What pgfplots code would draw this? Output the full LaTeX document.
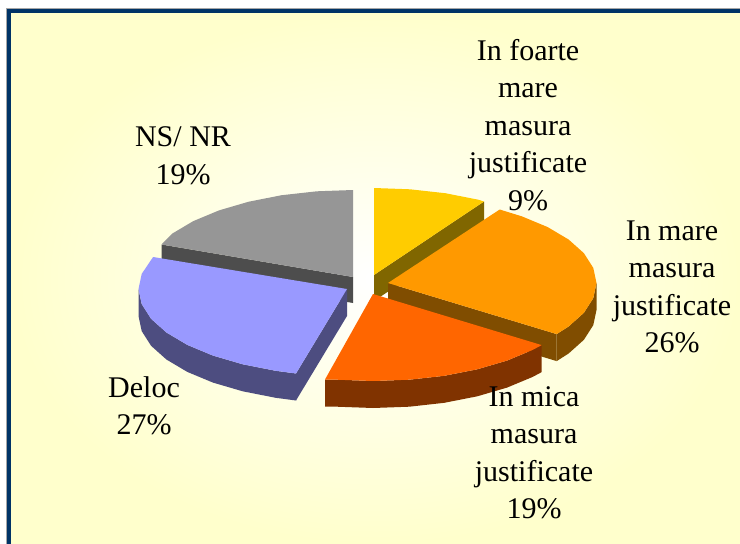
\documentclass[border=0pt]{standalone}
\usepackage{fontspec}
\setmainfont{Liberation Serif}
\usepackage{pgfplots}
\pgfplotsset{compat=1.18}
\definecolor{bord}{RGB}{0,51,102}
\definecolor{bgy}{RGB}{255,255,204}
\definecolor{c1}{RGB}{255,204,0}\definecolor{c1d}{RGB}{128,102,0}
\definecolor{c2}{RGB}{255,153,0}\definecolor{c2d}{RGB}{128,77,0}
\definecolor{c3}{RGB}{255,102,0}\definecolor{c3d}{RGB}{128,51,0}
\definecolor{c4}{RGB}{153,153,255}\definecolor{c4d}{RGB}{77,77,128}
\definecolor{c5}{RGB}{150,150,150}\definecolor{c5d}{RGB}{77,77,77}
\newcommand{\lab}[3]{\node[align=center,inner sep=0pt,text=black,font=\fontsize{30}{37.5}\selectfont] at (axis cs:#1,#2) {#3};}
\begin{document}
\begin{tikzpicture}
\begin{axis}[
  scale only axis, width=740pt, height=544pt,
  xmin=0, xmax=740, ymin=0, ymax=544, y dir=reverse,
  hide axis,
]
% panel
\addplot[fill=white, draw=none] coordinates {(0,0)(740,0)(740,544)(0,544)} --cycle;
\addplot[fill=black!35, draw=none] coordinates {(6,8)(740,8)(740,544)(6,544)} --cycle;
\addplot[fill=bord, draw=none] coordinates {(7,9)(740,9)(740,544)(7,544)} --cycle;
\path[inner color=white, outer color=bgy] (axis cs:11,13) rectangle (axis cs:740,544);
% NS/NR 19%
\addplot[fill=c5d, draw=none] coordinates {(353,277)(161.5,244.5)(161.5,270.5)(353,303)} --cycle;
\addplot[fill=c5, draw=none] coordinates {(353,277)(161.5,244.5)(172.4,233.5)(193.3,221.1)(219,210.4)(248.7,201.7)(281.7,195.2)(316.8,191.3)(353,190)} --cycle;
% Deloc 27%
\addplot[fill=c4d, draw=none] coordinates {(347,289)(296,373.5)(296,400.5)(347,316)} --cycle;
\addplot[fill=c4d, draw=none] coordinates {(296,373.5)(275.7,370.8)(242.7,364.3)(213,355.6)(187.3,344.9)(166.4,332.5)(151.1,318.8)(141.7,304.1)(138.5,289)(138.5,316)(141.7,331.1)(151.1,345.8)(166.4,359.5)(187.3,371.9)(213,382.6)(242.7,391.3)(275.7,397.8)(296,400.5)} --cycle;
\addplot[fill=c4, draw=none] coordinates {(347,289)(296,373.5)(275.7,370.8)(242.7,364.3)(213,355.6)(187.3,344.9)(166.4,332.5)(151.1,318.8)(141.7,304.1)(138.5,289)(141.7,273.9)(153.1,257)} --cycle;
% In foarte mare 9%
\addplot[fill=c1d, draw=none] coordinates {(374,275)(484,201.5)(484,227.5)(374,301)} --cycle;
\addplot[fill=c1, draw=none] coordinates {(374,275)(374,188)(410.2,189.3)(445.3,193.2)(478.3,199.7)(484,201.5)} --cycle;
% In mare 26%
\addplot[fill=c2d, draw=none] coordinates {(388,283)(556.7,334.1)(556.7,361.1)(388,310)} --cycle;
\addplot[fill=c2d, draw=none] coordinates {(596.5,283)(593.3,298.1)(583.9,312.8)(568.6,326.5)(556.7,334.1)(556.7,361.1)(568.6,353.5)(583.9,339.8)(593.3,325.1)(596.5,310)} --cycle;
\addplot[fill=c2, draw=none] coordinates {(388,283)(499.7,209.5)(522,216.4)(547.7,227.1)(568.6,239.5)(583.9,253.2)(593.3,267.9)(596.5,283)(593.3,298.1)(583.9,312.8)(568.6,326.5)(556.7,334.1)} --cycle;
% In mica 19%
\addplot[fill=c3d, draw=none] coordinates {(541.7,345.1)(532.7,349.9)(507,360.6)(477.3,369.3)(444.3,375.8)(409.2,379.7)(373,381)(336.8,379.7)(325,379.5)(325,406.5)(336.8,406.7)(373,408)(409.2,406.7)(444.3,402.8)(477.3,396.3)(507,387.6)(532.7,376.9)(541.7,372.1)} --cycle;
\addplot[fill=c3, draw=none] coordinates {(373,294)(541.7,345.1)(532.7,349.9)(507,360.6)(477.3,369.3)(444.3,375.8)(409.2,379.7)(373,381)(336.8,379.7)(325,379.5)} --cycle;
% labels
\lab{528}{125}{In foarte\\mare\\masura\\justificate\\9\%}
\lab{672}{287}{In mare\\masura\\justificate\\26\%}
\lab{534}{453}{In mica\\masura\\justificate\\19\%}
\lab{144}{406}{Deloc\\27\%}
\lab{183}{156}{NS/ NR\\19\%}
\end{axis}
\end{tikzpicture}
\end{document}
